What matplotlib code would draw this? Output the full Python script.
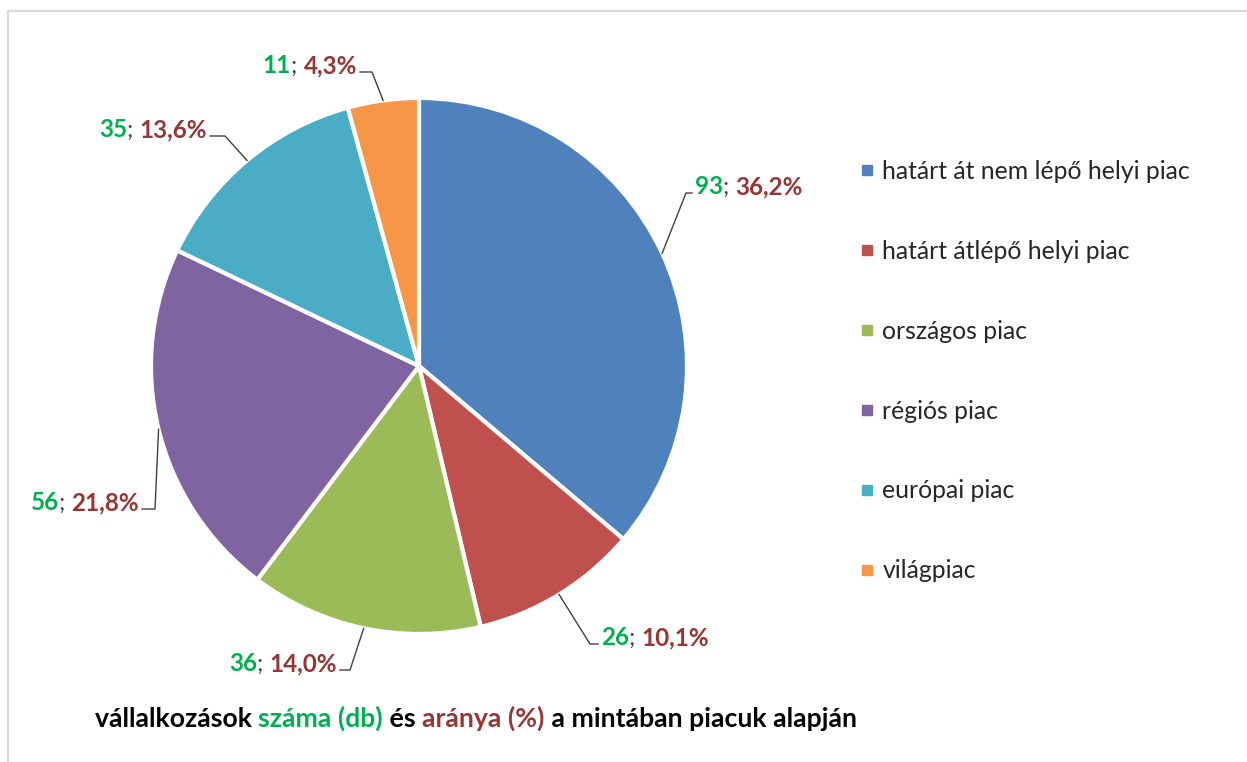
import numpy as np
import matplotlib.pyplot as plt
from matplotlib.lines import Line2D

plt.rcParams['font.family'] = ['Lato', 'DejaVu Sans']

categories = ['határt át nem lépő helyi piac', 'határt átlépő helyi piac',
              'országos piac', 'régiós piac', 'európai piac', 'világpiac']
counts = [93, 26, 36, 56, 35, 11]
shares = ['36,2%', '10,1%', '14,0%', '21,8%', '13,6%', '4,3%']
colors = ['#4F81BD', '#C0504D', '#9BBB59', '#8064A2', '#4BACC6', '#F79646']

GREEN = '#00B050'
DARKRED = '#953735'

# label layout in pixels: elbow of leader, end of leader, text side
label_layout = [
    ((686, 193), (692, 193), 'left'),
    ((590, 644), (598, 644), 'left'),
    ((350, 670), (340, 670), 'right'),
    ((155, 509), (142, 509), 'right'),
    ((225, 136), (210, 136), 'right'),
    ((372, 72), (360, 72), 'right'),
]

W, H = 1247, 762
fig = plt.figure(figsize=(W / 100, H / 100), dpi=100)
renderer = fig.canvas.get_renderer()

# light frame around the chart area
fig.add_artist(Line2D([8 / W, 8 / W, 1], [0, 1 - 11 / H, 1 - 11 / H],
                      color='#d9d9d9', lw=1.6, transform=fig.transFigure))

cx, cy, R = 419, 366, 268
ax = fig.add_axes([(cx - R) / W, (H - cy - R) / H, 2 * R / W, 2 * R / H])
wedges, _ = ax.pie(counts, colors=colors, startangle=90, counterclock=False,
                   radius=1, wedgeprops=dict(edgecolor='white', linewidth=3))
ax.set_xlim(-1, 1)
ax.set_ylim(-1, 1)
ax.axis('off')


def rich_text(parts, x_px, y_px, ha='left', size=15, weights=None):
    texts = []
    for i, (s, c) in enumerate(parts):
        w = 'bold' if weights is None else weights[i]
        texts.append(fig.text(0, 0, s, color=c, fontsize=size,
                              fontweight=w, va='baseline'))
    widths = [t.get_window_extent(renderer).width for t in texts]
    x = x_px if ha == 'left' else x_px - sum(widths)
    for t, w in zip(texts, widths):
        t.set_position((x / W, (H - y_px) / H))
        x += w


def to_data(p):
    return (p[0] - cx) / R, (cy - p[1]) / R


for wdg, n, pct, (elbow, end, side) in zip(wedges, counts, shares, label_layout):
    mid = np.deg2rad((wdg.theta1 + wdg.theta2) / 2)
    start = (np.cos(mid), np.sin(mid))
    e = to_data(elbow)
    f = to_data(end)
    ax.plot([start[0], e[0], f[0]], [start[1], e[1], f[1]],
            color='#404040', lw=1, clip_on=False)
    tx = end[0] + 3 if side == 'left' else end[0] - 3
    rich_text([(str(n), GREEN), ('; ', '#404040'), (pct, DARKRED)],
              tx, end[1] + 1, ha=side, size=17.5,
              weights=['bold', 'normal', 'bold'])

handles = [Line2D([], [], marker='s', ls='', color=c, markersize=7) for c in colors]
fig.legend(handles, categories, loc='upper left',
           bbox_to_anchor=(860 / W, 1 - 160 / H), frameon=False,
           fontsize=17.8, labelspacing=2.30, handlelength=0.6,
           handletextpad=0.3, borderpad=0, borderaxespad=0,
           labelcolor='#262626')

rich_text([('vállalkozások ', 'black'), ('száma (db)', GREEN), (' és ', 'black'),
           ('aránya (%)', DARKRED), (' a mintában piacuk alapján', 'black')],
          95, 727, size=19.2)

fig.savefig('out.png', dpi=100)
